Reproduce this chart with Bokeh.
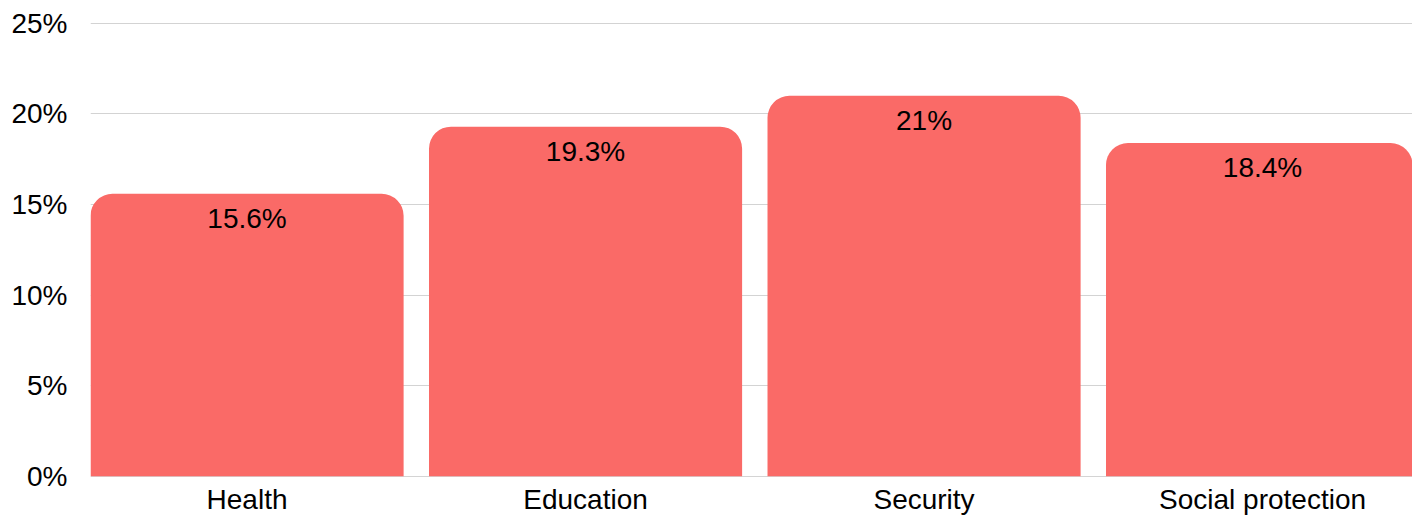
from bokeh.plotting import figure
from bokeh.models import ColumnDataSource, FixedTicker, PrintfTickFormatter, Range1d, Span
from bokeh.core.properties import value
from bokeh.embed import file_html
from bokeh.resources import INLINE

categories = ["Health", "Education", "Security", "Social protection"]
shares = [15.6, 19.3, 21.0, 18.4]
y_ticks = [0, 5, 10, 15, 20, 25]

FONT = "Liberation Sans"
BAR = "#fa6a67"
BAR_W = 0.925

W, H = 1412, 517
LEFT = 90
PX_PER_CAT = 338.5

xs = list(range(len(categories)))
labels = [f"{v:g}%" for v in shares]
src = ColumnDataSource(dict(x=xs, top=shares, label=labels))

p = figure(width=W, height=H, output_backend="svg", toolbar_location=None,
           x_range=Range1d(-BAR_W / 2, -BAR_W / 2 + (W - LEFT) / PX_PER_CAT),
           y_range=Range1d(0, 25.1),
           min_border_left=LEFT, min_border_top=21, min_border_bottom=20, min_border_right=0)
p.outline_line_color = None
p.background_fill_color = "white"
p.border_fill_color = "white"

p.vbar(x="x", top="top", width=BAR_W, bottom=0, source=src, fill_color=BAR,
       line_color=None, border_radius=(22, 22, 0, 0))
p.text(x="x", y="top", text="label", source=src, text_align="center",
       text_baseline="middle", y_offset=25, text_font=value(FONT),
       text_font_size="28px", text_color="#000000")

p.add_layout(Span(location=0, dimension="width", line_color="#aaaaaa",
                  line_width=1, level="underlay"))

p.xgrid.grid_line_color = None
p.ygrid.grid_line_color = "#d3d3d3"
p.ygrid.grid_line_width = 1

for ax in (p.xaxis, p.yaxis):
    ax.axis_line_color = None
    ax.major_tick_line_color = None
    ax.minor_tick_line_color = None
    ax.major_tick_out = 0
    ax.major_tick_in = 0
    ax.minor_tick_out = 0
    ax.minor_tick_in = 0
    ax.major_label_text_font = FONT
    ax.major_label_text_font_size = "28px"
    ax.major_label_text_color = "#000000"

p.yaxis.ticker = FixedTicker(ticks=y_ticks)
p.yaxis.formatter = PrintfTickFormatter(format="%d%%")
p.yaxis.major_label_standoff = 23

p.xaxis.ticker = FixedTicker(ticks=xs)
p.xaxis.major_label_overrides = {i: c for i, c in enumerate(categories)}
p.xaxis.major_label_standoff = 7

open("out.html", "w").write(file_html(p, INLINE))
